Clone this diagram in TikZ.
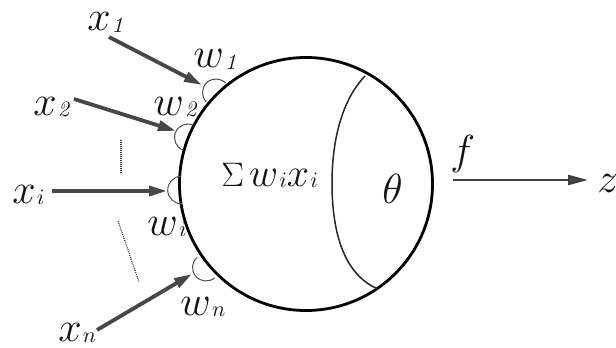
\RequirePackage{fix-cm}
\documentclass[tikz,border=0pt]{standalone}
\usetikzlibrary{arrows.meta,calc}
\newcommand\lsub[1]{\kern0.6pt\raisebox{-0.8pt}{\fontsize{11}{13}\selectfont$#1$}}
\begin{document}
\begin{tikzpicture}[x=0.5pt,y=-0.5pt,
  lab/.style={inner sep=0pt, anchor=base west, text=black!92, font=\fontsize{21}{25}\selectfont},
  sumlab/.style={lab, font=\fontsize{20}{24}\selectfont},
  inarrow/.style={line width=1.9pt, draw=black!72, -{Triangle[length=9pt,width=5pt,fill=black!72]}},
  outarrow/.style={line width=1.2pt, draw=black!75, -{Triangle[length=10pt,width=5pt,fill=black!70]}},
  syn/.style={line width=0.5pt, draw=black!70},
  dotline/.style={line width=0.6pt, draw=black!80, dash pattern=on 0.45pt off 0.55pt},
  cellbody/.style={circle, draw=black, line width=1.4pt, minimum size=126.5pt, inner sep=0pt}]
\fill[white] (0,0) rectangle (616,348);
\useasboundingbox (0,0) rectangle (616,348);

% cell body
\node[cellbody] (cell) at (306,184) {};
\draw[line width=0.75pt, black!85] (365,76) .. controls (342,100) and (332,140) .. (332,183)
      .. controls (332,235) and (345,275) .. (378,289);

% synapses
\coordinate (s1) at (216,92.5);
\coordinate (s2) at (188,137.5);
\coordinate (si) at (181.5,190);
\coordinate (sn) at (206,267.5);
\draw[syn] ($(s1)+(44.5:6.75pt)$) arc[start angle=44.5, end angle=224.5, radius=6.75pt];
\draw[syn] ($(s2)+(68.5:6.75pt)$) arc[start angle=68.5, end angle=248.5, radius=6.75pt];
\draw[syn] ($(si)+(92.8:6.9pt)$) arc[start angle=92.8, end angle=272.8, radius=6.9pt];
\draw[syn] ($(sn)+(129.9:6.75pt)$) arc[start angle=129.9, end angle=309.9, radius=6.75pt];

% input arrows
\coordinate (a1) at (109,37);  \coordinate (t1) at (202,85);
\coordinate (a2) at (74,99);   \coordinate (t2) at (176,131);
\coordinate (ai) at (52,191);  \coordinate (ti) at (167,191);
\coordinate (an) at (97,330);  \coordinate (tn) at (192,274);
\draw[inarrow] (a1) -- (t1);
\draw[inarrow] (a2) -- (t2);
\draw[inarrow] (ai) -- (ti);
\draw[inarrow] (an) -- (tn);

% dotted continuation marks
\coordinate (d1) at (121,140); \coordinate (d2) at (121,174);
\coordinate (d3) at (118,221); \coordinate (d4) at (139,282);
\draw[dotline] (d1) -- (d2);
\draw[dotline] (d3) -- (d4);

% output arrow
\coordinate (o1) at (453,180); \coordinate (o2) at (588,180);
\draw[outarrow] (o1) -- (o2);

% labels
\node[lab] (x1) at (87,31) {$x$\lsub{\mathit{1}}};
\node[lab] (x2) at (33,115) {$x$\lsub{\mathit{2}}};
\node[lab] (xi) at (12,203) {$x$\lsub{i}};
\node[lab] (xn) at (58,341) {$x$\lsub{n}};
\node[lab] (w1) at (193,68) {$w$\lsub{\mathit{1}}};
\node[lab] (w2) at (153,115) {$w$\lsub{\mathit{2}}};
\node[lab] (wi) at (147,235) {$w$\lsub{i}};
\node[lab] (wn) at (180,315) {$w$\lsub{n}};
\node[sumlab] (sum) at (221,186) {{\fontsize{17}{20}\selectfont$\Sigma$}\kern2.5pt$w$\lsub{i}$x$\lsub{i}};
\node[lab] (theta) at (382,203) {$\theta$};
\node[lab] (f) at (450,164) {$f$};
\node[lab] (z) at (597,192) {$z$};
\end{tikzpicture}
\end{document}
